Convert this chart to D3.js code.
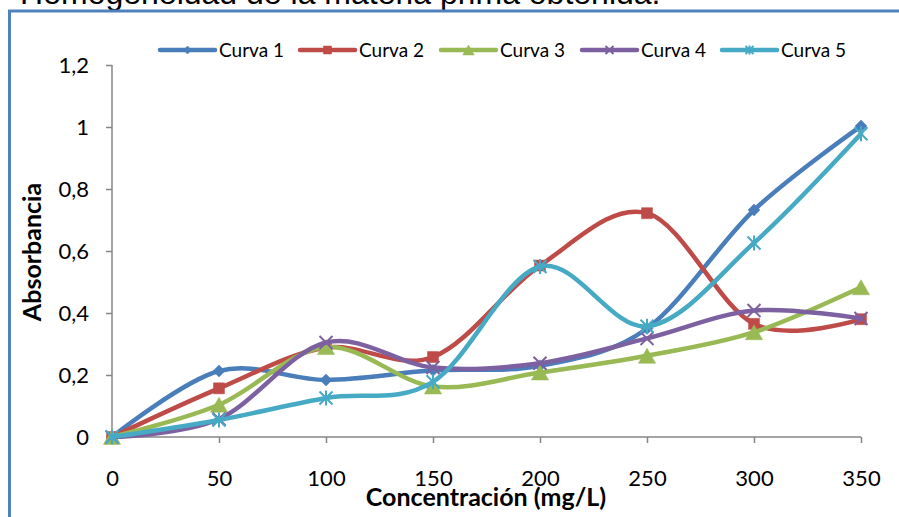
<!DOCTYPE html>
<html>
<head>
<meta charset="utf-8">
<script src="https://cdn.jsdelivr.net/npm/d3@7"></script>
<style>
  body { margin: 0; background: #fff; }
  svg { display: block; font-family: Lato, "Open Sans", sans-serif; }
</style>
</head>
<body>
<script>
var width = 899, height = 517;

var concentracion = [0, 50, 100, 150, 200, 250, 300, 350];
var curva1 = [0, 0.213, 0.184, 0.215, 0.23, 0.35, 0.732, 1.003];
var curva2 = [0, 0.157, 0.288, 0.258, 0.553, 0.722, 0.365, 0.38];
var curva3 = [0, 0.104, 0.29, 0.163, 0.208, 0.262, 0.338, 0.483];
var curva4 = [0, 0.058, 0.305, 0.224, 0.238, 0.318, 0.408, 0.382];
var curva5 = [0, 0.055, 0.126, 0.178, 0.55, 0.357, 0.626, 0.978];
var seriesNames = ["Curva 1", "Curva 2", "Curva 3", "Curva 4", "Curva 5"];
var xTicks = [0, 50, 100, 150, 200, 250, 300, 350];
var yTicks = [0, 0.2, 0.4, 0.6, 0.8, 1, 1.2];

var colors = ["#4a7ebb", "#be4b48", "#98b954", "#7d60a0", "#46aac5"];
var markers = ["diamond", "square", "triangle", "x", "star"];
var allSeries = [curva1, curva2, curva3, curva4, curva5];

var x = d3.scaleLinear().domain([0, 350]).range([112, 861]);
var y = d3.scaleLinear().domain([0, 1.2]).range([437, 65]);

var svg = d3.select("body").append("svg")
    .attr("width", width)
    .attr("height", height);

// heading above the chart frame, cut by the top of the picture
svg.append("text")
    .attr("x", 0)
    .attr("y", 4)
    .style("font-family", "Liberation Sans, Arial, sans-serif")
    .style("font-size", "32px")
    .attr("fill", "#000")
    .text("• Homogeneidad de la materia prima obtenida.");

// chart frame
svg.append("path")
    .attr("d", "M9.5," + height + "V11H" + width)
    .attr("fill", "none")
    .attr("stroke", "#4f81bd")
    .attr("stroke-width", 3);

// axes
var xAxis = d3.axisBottom(x).tickValues(xTicks).tickSize(6).tickPadding(27)
    .tickFormat(d3.format("d"));
var yAxis = d3.axisLeft(y).tickValues(yTicks).tickSize(6).tickPadding(17)
    .tickFormat(function(d) { return String(+d.toFixed(1)).replace(".", ","); });

var gx = svg.append("g").attr("transform", "translate(0," + y(0) + ")").call(xAxis);
var gy = svg.append("g").attr("transform", "translate(" + x(0) + ",0)").call(yAxis);

[gx, gy].forEach(function(g) {
    g.select(".domain").attr("stroke", "#868686").attr("stroke-width", 1.5);
    g.selectAll(".tick line").attr("stroke", "#868686").attr("stroke-width", 1.5);
    g.selectAll(".tick text")
        .attr("fill", "#000")
        .style("font-family", "Lato, sans-serif")
        .style("font-size", "22px");
});
gx.select(".domain").attr("d", "M" + x(0) + ",0H" + x(350));
gy.select(".domain").attr("d", "M0," + y(1.2) + "V" + y(0));
gy.selectAll(".tick text").attr("dy", "0.36em");

// axis titles
svg.append("text")
    .attr("x", 486)
    .attr("y", 506)
    .attr("text-anchor", "middle")
    .style("font-size", "25px")
    .style("font-weight", "bold")
    .text("Concentración (mg/L)");

svg.append("text")
    .attr("transform", "translate(41,252) rotate(-90)")
    .attr("text-anchor", "middle")
    .style("font-size", "25px")
    .style("font-weight", "bold")
    .text("Absorbancia");

function markerPath(type, s) {
    var h = s / 2;
    if (type === "diamond") return "M0," + (-h) + "L" + h + ",0L0," + h + "L" + (-h) + ",0Z";
    if (type === "square") return "M" + (-h) + "," + (-h) + "h" + s + "v" + s + "h" + (-s) + "Z";
    if (type === "triangle") return "M0," + (-h) + "L" + (h * 1.15) + "," + h + "L" + (-h * 1.15) + "," + h + "Z";
    if (type === "x") return "M" + (-h) + "," + (-h) + "L" + h + "," + h + "M" + h + "," + (-h) + "L" + (-h) + "," + h;
    return "M" + (-h) + "," + (-h) + "L" + h + "," + h + "M" + h + "," + (-h) + "L" + (-h) + "," + h +
        "M0," + (-h * 1.15) + "V" + (h * 1.15);
}
var markerSize = { diamond: 12, square: 11, triangle: 15, x: 13, star: 13 };

function drawMarker(g, type, size, color) {
    var filled = type === "diamond" || type === "square" || type === "triangle";
    g.append("path")
        .attr("d", markerPath(type, size))
        .attr("fill", filled ? color : "none")
        .attr("stroke", color)
        .attr("stroke-width", filled ? 0.5 : 2);
}

var line = d3.line()
    .x(function(d, i) { return x(concentracion[i]); })
    .y(function(d) { return y(d); })
    .curve(d3.curveCardinal.tension(0));

allSeries.forEach(function(values, k) {
    var g = svg.append("g");
    g.append("path")
        .attr("d", line(values))
        .attr("fill", "none")
        .attr("stroke", colors[k])
        .attr("stroke-width", 4.5)
        .attr("stroke-linejoin", "round")
        .attr("stroke-linecap", "round");
    values.forEach(function(v, i) {
        var m = g.append("g").attr("transform", "translate(" + x(concentracion[i]) + "," + y(v) + ")");
        drawMarker(m, markers[k], markerSize[markers[k]], colors[k]);
    });
});

// legend
var legendX = [160, 300, 441, 582, 722];
var legend = svg.append("g");
seriesNames.forEach(function(name, k) {
    var lg = legend.append("g").attr("transform", "translate(" + legendX[k] + ",50)");
    lg.append("line")
        .attr("x1", 0).attr("x2", 55)
        .attr("stroke", colors[k])
        .attr("stroke-width", 4.5)
        .attr("stroke-linecap", "round");
    var m = lg.append("g").attr("transform", "translate(27.5,0)");
    drawMarker(m, markers[k], markers[k] === "triangle" ? 10 : 8, colors[k]);
    lg.append("text")
        .attr("x", 59)
        .attr("dy", "0.35em")
        .style("font-size", "19px")
        .attr("fill", "#000")
        .text(name);
});
</script>
</body>
</html>
